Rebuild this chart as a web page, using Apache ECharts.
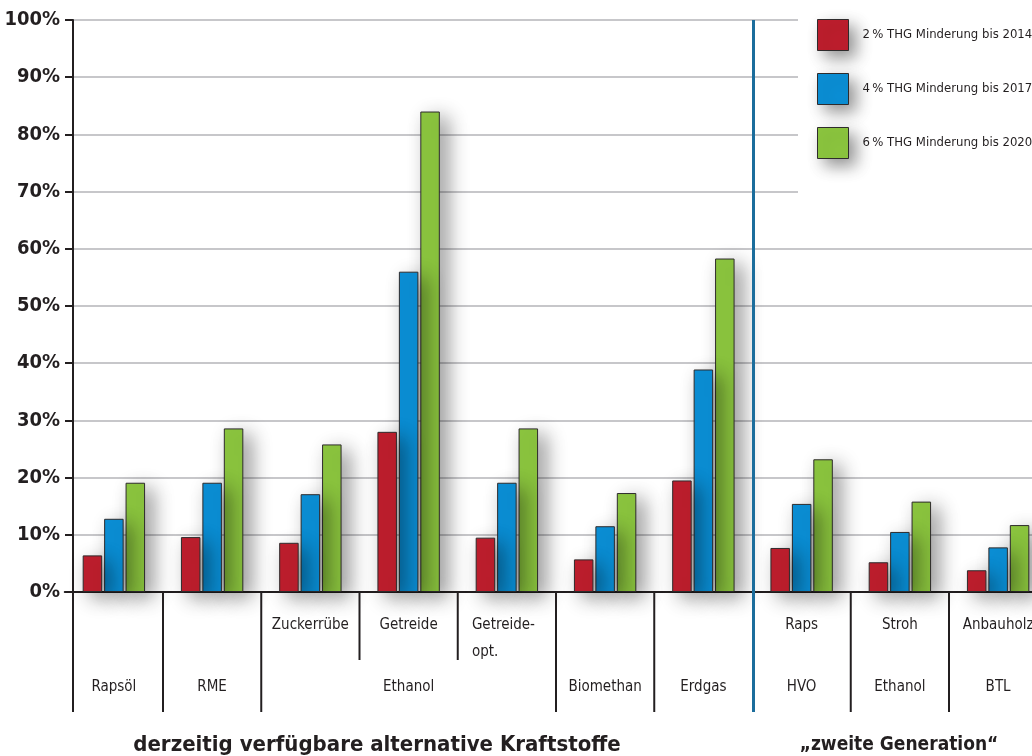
<!DOCTYPE html>
<html>
<head>
<meta charset="utf-8">
<script src="https://cdn.jsdelivr.net/npm/echarts@6/dist/echarts.min.js"></script>
<style>
  html, body { margin: 0; padding: 0; background: #ffffff; overflow: hidden; }
  #chart { width: 1050px; height: 756px; }
</style>
</head>
<body>
<div id="chart"></div>
<script>
// Fuel pathways (one bar group each)
const fuels = ['Rapsöl', 'RME', 'Zuckerrübe', 'Getreide', 'Getreide-opt.', 'Biomethan', 'Erdgas', 'Raps', 'Stroh', 'Anbauholz'];
// Upper label row (feedstock) and lower label row (fuel type)
const feedstockLabels = ['', '', 'Zuckerrübe', 'Getreide', 'Getreide-\nopt.', '', '', 'Raps', 'Stroh', 'Anbauholz'];
const fuelTypeLabels = ['Rapsöl', 'RME', '', 'Ethanol', '', 'Biomethan', 'Erdgas', 'HVO', 'Ethanol', 'BTL'];

const seriesNames = ['2\u2009% THG Minderung bis 2014', '4\u2009% THG Minderung bis 2017', '6\u2009% THG Minderung bis 2020'];
// Share of each fuel (in %) needed for the reduction target
const quota2014 = [6.4, 9.6, 8.6, 28.0, 9.5, 5.7, 19.5, 7.7, 5.2, 3.8];
const quota2017 = [12.8, 19.1, 17.1, 56.0, 19.1, 11.5, 38.9, 15.4, 10.5, 7.8];
const quota2020 = [19.1, 28.6, 25.8, 84.0, 28.6, 17.3, 58.3, 23.2, 15.8, 11.7];

const groupTitles = ['derzeitig verfügbare alternative Kraftstoffe', '\u201Ezweite Generation\u201C'];

const colors = ['#be1e2d', '#0b8fd6', '#8cc63f'];
const FONT = "'Liberation Sans Narrow', 'DejaVu Sans Condensed', sans-serif";
const INK = '#231f20';

const plotTop = 20, plotHeight = 572;
const axisX = 73;          // position of the value axis
const dividerBottom = 712; // lower end of the category dividers

const chart = echarts.init(document.getElementById('chart'), null, { renderer: 'canvas' });

const barShadow = {
  borderColor: '#2e2b2c', borderWidth: 1,
  shadowBlur: 20, shadowColor: 'rgba(0,0,0,0.42)', shadowOffsetX: 8, shadowOffsetY: 6
};

const option = {
  backgroundColor: '#ffffff',
  animation: false,
  textStyle: { fontFamily: FONT },
  grid: [
    // bars
    { left: 64.75, width: 982.5, top: plotTop, height: plotHeight, containLabel: false, outerBoundsMode: 'none' },
    // value axis + grid lines
    { left: axisX, right: 18, top: plotTop, height: plotHeight, containLabel: false, outerBoundsMode: 'none' }
  ],
  xAxis: [
    {
      gridIndex: 0, type: 'category', data: fuels, position: 'bottom',
      axisLine: { show: true, lineStyle: { color: INK, width: 2 } },
      axisTick: { show: false },
      axisLabel: {
        interval: 0, margin: 19.5, color: INK, fontFamily: FONT, fontSize: 15, lineHeight: 27,
        formatter: (v, i) => {
          const t = feedstockLabels[i];
          if (t.indexOf('\n') >= 0) {
            return t.split('\n').map(s => '{l|' + s + '}').join('\n');
          }
          return t;
        },
        rich: { l: { width: 70, align: 'left', fontSize: 15, lineHeight: 27, color: INK, fontFamily: FONT } }
      },
      splitLine: { show: false }
    },
    {
      gridIndex: 0, type: 'category', data: fuels, position: 'bottom', offset: 0,
      axisLine: { show: false }, axisTick: { show: false },
      axisLabel: {
        interval: 0, margin: 81.5, color: INK, fontFamily: FONT, fontSize: 15, lineHeight: 27,
        formatter: (v, i) => fuelTypeLabels[i]
      },
      splitLine: { show: false }
    },
    {
      gridIndex: 1, type: 'value', min: 0, max: 1, show: false
    }
  ],
  yAxis: [
    { gridIndex: 0, type: 'value', min: 0, max: 100, interval: 10, show: false },
    {
      gridIndex: 1, type: 'value', min: 0, max: 100, interval: 10,
      axisLine: { show: true, lineStyle: { color: INK, width: 2 } },
      axisTick: { show: true, length: 8, lineStyle: { color: INK, width: 2 } },
      axisLabel: { margin: 13, color: INK, fontFamily: FONT, fontSize: 20, fontWeight: 'bold', formatter: '{value}%' },
      splitLine: { show: true, lineStyle: { color: '#b4b4b8', width: 1.5 } }
    }
  ],
  legend: {
    orient: 'vertical', left: 817, top: 19, padding: 0,
    itemWidth: 31, itemHeight: 31, itemGap: 22,
    icon: 'rect',
    textStyle: { color: INK, fontFamily: FONT, fontSize: 13, padding: [0, 0, 0, 9] },
    data: seriesNames.map((n, i) => ({
      name: n,
      itemStyle: Object.assign({ color: colors[i] }, barShadow, { shadowBlur: 16, shadowOffsetX: 7, shadowOffsetY: 7 })
    }))
  },
  title: [
    { text: groupTitles[0], left: 372, top: 729, textAlign: 'center',
      textStyle: { color: INK, fontFamily: FONT, fontSize: 22, fontWeight: 'bold' } },
    { text: groupTitles[1], left: 894, top: 731, textAlign: 'center',
      textStyle: { color: INK, fontFamily: FONT, fontSize: 19, fontWeight: 'bold' } }
  ],
  series: [quota2014, quota2017, quota2020].map((d, i) => ({
    name: seriesNames[i], type: 'bar', xAxisIndex: 0, yAxisIndex: 0,
    data: d, barWidth: 19.5, barGap: '10%', z: 4 - i,
    itemStyle: Object.assign({ color: colors[i] }, barShadow)
  }))
};

chart.setOption(option);

// Dividers between categories, derived from the category scale
const c0 = chart.convertToPixel({ xAxisIndex: 0 }, 0);
const c1 = chart.convertToPixel({ xAxisIndex: 0 }, 1);
const band = c1 - c0;
const y0 = chart.convertToPixel({ yAxisIndex: 0 }, 0);
const yTop = chart.convertToPixel({ yAxisIndex: 0 }, 100);
const shortDividers = [3, 4];   // inside the "Ethanol" group
const generationSplit = 7;      // between current fuels and second generation

const graphics = [
  // keeps the top grid lines clear behind the legend
  { type: 'rect', z: 1, silent: true, shape: { x: 798, y: 0, width: 260, height: 215 }, style: { fill: '#ffffff' } },
  // value axis continued through the label rows
  { type: 'line', z: 5, shape: { x1: axisX, y1: y0, x2: axisX, y2: dividerBottom }, style: { stroke: INK, lineWidth: 2 } }
];
for (let i = 1; i < fuels.length; i++) {
  const x = chart.convertToPixel({ xAxisIndex: 0 }, i) - band / 2;
  if (i === generationSplit) {
    graphics.push({ type: 'line', z: 6, shape: { x1: x + 1, y1: yTop, x2: x + 1, y2: dividerBottom },
      style: { stroke: '#1b6d9c', lineWidth: 3 } });
  } else {
    const yEnd = shortDividers.indexOf(i) >= 0 ? 660 : dividerBottom;
    graphics.push({ type: 'line', z: 5, shape: { x1: x, y1: y0, x2: x, y2: yEnd },
      style: { stroke: INK, lineWidth: 2 } });
  }
}
chart.setOption({ graphic: graphics });
</script>
</body>
</html>
